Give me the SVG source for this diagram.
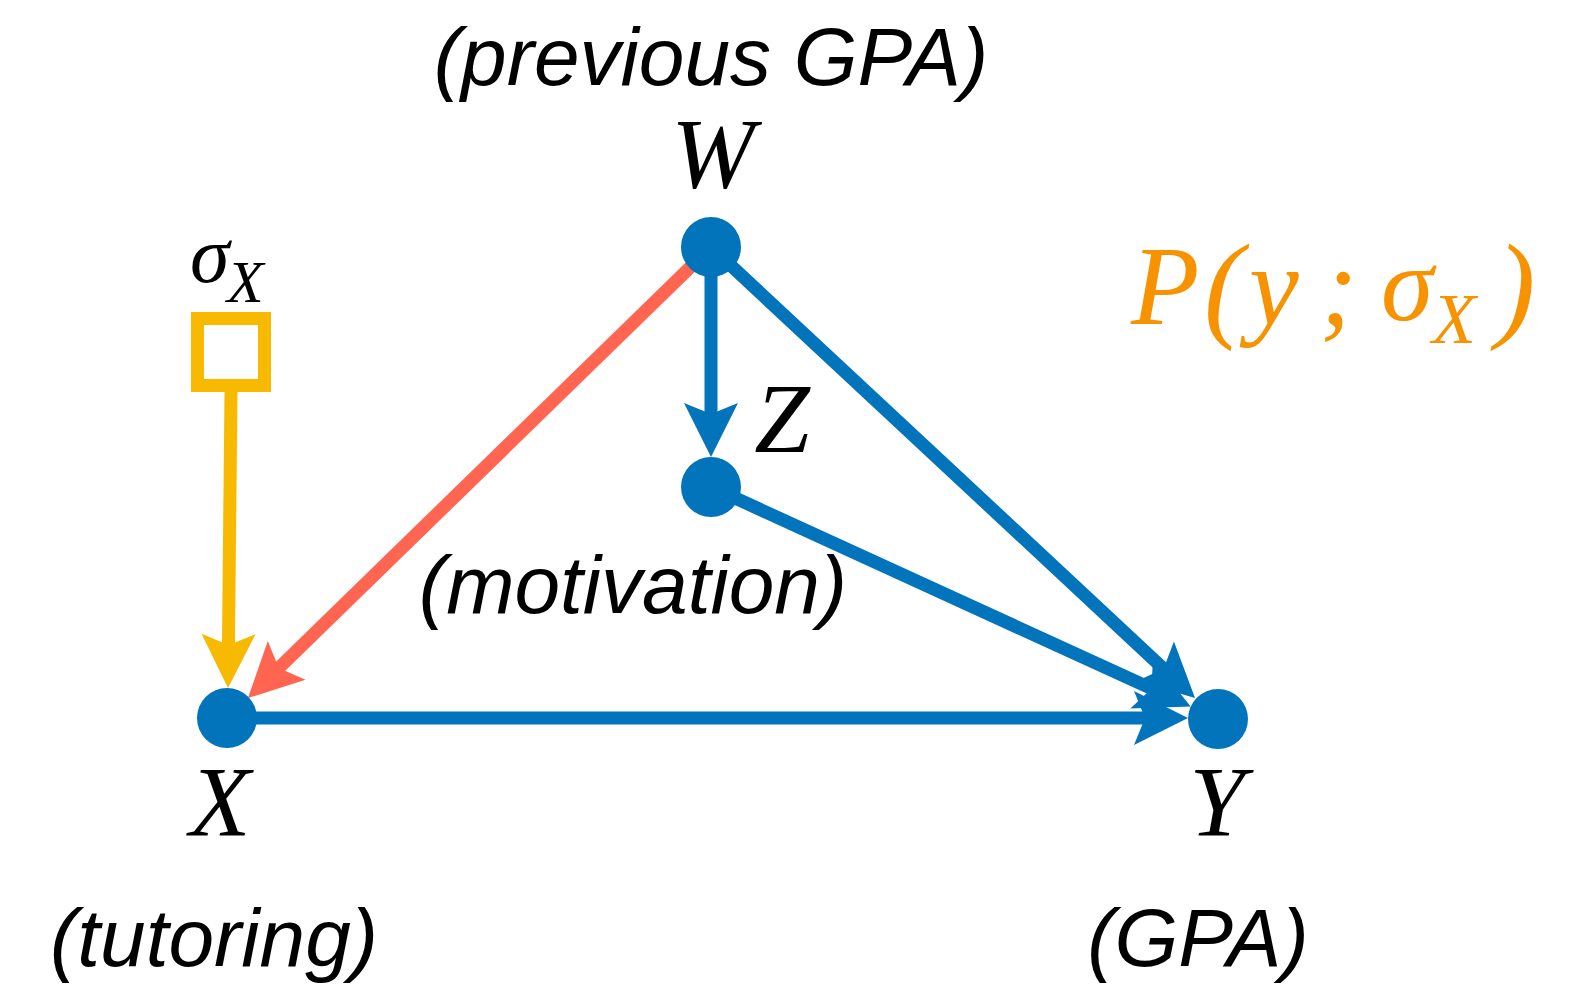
<svg xmlns="http://www.w3.org/2000/svg" width="1573" height="985" viewBox="0 0 1573 985">
<style>
.lbl{font-family:"Liberation Sans",Arial,sans-serif;font-style:italic;font-size:82px;fill:#000;text-anchor:middle}
.math{font-family:"Liberation Serif","Times New Roman",serif;font-style:italic;fill:#000}
.node{fill:#0174BB}
.edge{stroke-width:13;fill:none}
.blue{stroke:#0174BB}
.red{stroke:#FF6550}
.yel{stroke:#F7BA00}
.or{fill:#F79300}
</style>
<defs>
<marker id="hb" markerUnits="userSpaceOnUse" orient="auto" refX="0" refY="0" markerWidth="80" markerHeight="80" overflow="visible"><path d="M20,0 L-34,-27 L-23,0 L-34,27 Z" fill="#0174BB"/></marker>
<marker id="hr" markerUnits="userSpaceOnUse" orient="auto" refX="0" refY="0" markerWidth="80" markerHeight="80" overflow="visible"><path d="M20,0 L-34,-27 L-23,0 L-34,27 Z" fill="#FF6550"/></marker>
<marker id="hy" markerUnits="userSpaceOnUse" orient="auto" refX="0" refY="0" markerWidth="80" markerHeight="80" overflow="visible"><path d="M20,0 L-34,-27 L-23,0 L-34,27 Z" fill="#F7BA00"/></marker>
</defs>
<rect width="1573" height="985" fill="#fff"/>
<g id="connectors">
<line class="edge yel" x1="231" y1="392" x2="228.2" y2="668" marker-end="url(#hy)"/>
<line class="edge red" x1="711" y1="247" x2="262.3" y2="684.1" marker-end="url(#hr)"/>
<line class="edge blue" x1="711" y1="247" x2="711" y2="437" marker-end="url(#hb)"/>
<line class="edge blue" x1="711" y1="247" x2="1180.4" y2="684.4" marker-end="url(#hb)"/>
<line class="edge blue" x1="711" y1="487" x2="1172.5" y2="698.2" marker-end="url(#hb)"/>
<line class="edge blue" x1="227" y1="718" x2="1168" y2="718" marker-end="url(#hb)"/>
</g>
<g id="node-W">
<circle class="node" cx="711" cy="247" r="30"/>
<text class="lbl" x="711" y="85" font-size="83">(previous GPA)</text>
<text class="math" x="713" y="187" font-size="100" text-anchor="middle">W</text>
</g>
<g id="node-Z">
<circle class="node" cx="711" cy="487" r="30"/>
<text class="math" x="782" y="452" font-size="100" text-anchor="middle">Z</text>
<text class="lbl" x="633" y="613" font-size="84">(motivation)</text>
</g>
<g id="node-X">
<circle class="node" cx="227" cy="718" r="30"/>
<text class="math" x="220" y="835" font-size="100" text-anchor="middle">X</text>
<text class="lbl" x="214" y="966">(tutoring)</text>
</g>
<g id="node-Y">
<circle class="node" cx="1218" cy="719" r="30"/>
<text class="math" x="1217" y="835" font-size="100" text-anchor="middle">Y</text>
<text class="lbl" x="1198" y="966">(GPA)</text>
</g>
<g id="node-sigma">
<rect x="197.5" y="318.5" width="67" height="67" fill="#fff" stroke="#F7BA00" stroke-width="13"/>
<text class="math" x="190" y="282" font-size="80">σ</text>
<text class="math" x="227" y="302" font-size="60">X</text>
</g>
<g id="formula">
<text class="math or" x="1131" y="324" font-size="112">P</text>
<text class="math or" x="1204" y="326" font-size="118">(</text>
<text class="math or" x="1249" y="324" font-size="112">y</text>
<text class="math or" x="1320" y="324" font-size="112">;</text>
<text class="math or" x="1381" y="320" font-size="106">σ</text>
<text class="math or" x="1432" y="343" font-size="72">X</text>
<text class="math or" x="1496" y="326" font-size="118">)</text>
</g>
</svg>
